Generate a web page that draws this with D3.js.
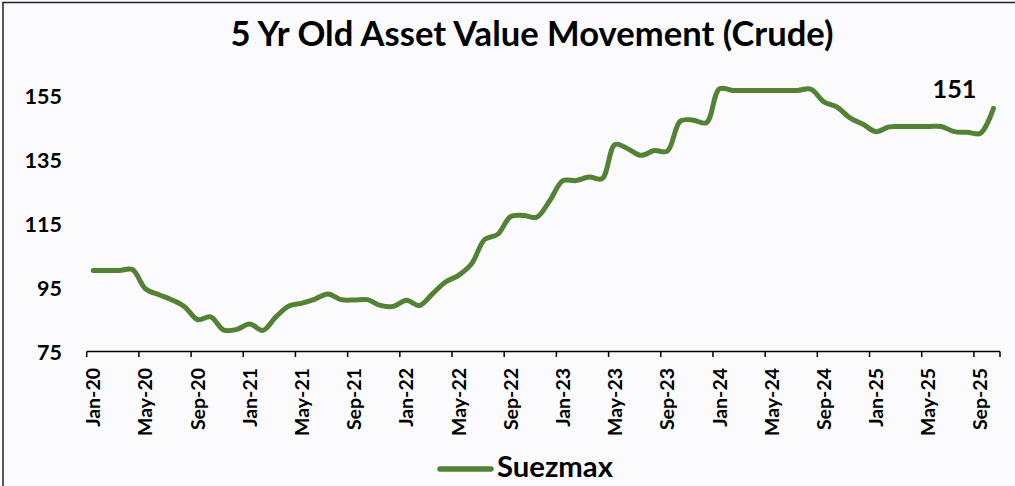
<!DOCTYPE html>
<html><head><meta charset="utf-8">
<script src="https://cdn.jsdelivr.net/npm/d3@7"></script>
<style>
html,body{margin:0;padding:0;background:#fbfbfd;}
svg{display:block;}
text{font-family:Lato,"Open Sans",sans-serif;font-weight:700;fill:#000;}
</style></head>
<body>
<svg id="c" width="1015" height="486"></svg>
<script>
const months = ["Jan-20","Feb-20","Mar-20","Apr-20","May-20","Jun-20","Jul-20","Aug-20","Sep-20","Oct-20","Nov-20","Dec-20",
"Jan-21","Feb-21","Mar-21","Apr-21","May-21","Jun-21","Jul-21","Aug-21","Sep-21","Oct-21","Nov-21","Dec-21",
"Jan-22","Feb-22","Mar-22","Apr-22","May-22","Jun-22","Jul-22","Aug-22","Sep-22","Oct-22","Nov-22","Dec-22",
"Jan-23","Feb-23","Mar-23","Apr-23","May-23","Jun-23","Jul-23","Aug-23","Sep-23","Oct-23","Nov-23","Dec-23",
"Jan-24","Feb-24","Mar-24","Apr-24","May-24","Jun-24","Jul-24","Aug-24","Sep-24","Oct-24","Nov-24","Dec-24",
"Jan-25","Feb-25","Mar-25","Apr-25","May-25","Jun-25","Jul-25","Aug-25","Sep-25","Oct-25"];
const suezmax = [100.3,100.3,100.3,100.6,94.6,92.8,91.2,89.0,85.0,85.8,81.7,81.9,
83.6,81.6,85.8,89.2,90.1,91.4,93.0,91.2,91.1,91.2,89.4,89.1,
91.0,89.4,93.0,96.7,98.8,102.4,110.0,111.6,117.2,117.5,117.0,122.2,
128.4,128.4,129.5,129.0,139.7,138.3,136.3,137.8,137.6,147.0,147.3,146.5,
157.1,156.6,156.6,156.6,156.6,156.6,156.6,157.0,153.0,151.4,148.0,146.0,
143.7,145.2,145.3,145.3,145.3,145.3,143.7,143.5,143.2,151.0];
const yTicks = [75,95,115,135,155];
const xTickLabels = ["Jan-20","May-20","Sep-20","Jan-21","May-21","Sep-21","Jan-22","May-22","Sep-22",
"Jan-23","May-23","Sep-23","Jan-24","May-24","Sep-24","Jan-25","May-25","Sep-25"];
const seriesName = "Suezmax";
const titleText = "5 Yr Old Asset Value Movement (Crude)";
const lastLabel = "151";

const svg = d3.select("#c");
const green = "#548235";

function fit(sel, target){
  const n = sel.node();
  const fs = parseFloat(sel.attr("font-size"));
  const len = n.getComputedTextLength();
  sel.attr("font-size", (fs*target/len).toFixed(2));
}

// frame
svg.append("rect").attr("x",3).attr("y",2.5).attr("width",1030).attr("height",500)
  .attr("fill","#fbfbfd").attr("stroke","#222").attr("stroke-width",1.5);

const x = d3.scaleBand().domain(months).range([86.7,1000]).padding(0);
const y = d3.scaleLinear().domain([75,155]).range([351.5,95.5]);

// title
const t = svg.append("text").attr("x",532).attr("y",46).attr("text-anchor","middle")
  .attr("font-size",28).text(titleText);
fit(t, 603);

// y axis labels
const yAxis = d3.axisLeft(y).tickValues(yTicks).tickSize(0).tickPadding(0);
const gy = svg.append("g").attr("transform","translate(62,0)").call(yAxis);
gy.select(".domain").remove();
gy.selectAll("text").attr("font-size",21.5).attr("font-family","Lato,'Open Sans',sans-serif")
  .attr("font-weight",700).attr("fill","#000").attr("dy","0.36em").attr("x",0);

// x axis
const gx = svg.append("g").attr("transform","translate(0,351.5)");
gx.append("line").attr("x1",x.range()[0]).attr("x2",x.range()[1]).attr("y1",0).attr("y2",0)
  .attr("stroke","#000").attr("stroke-width",1.5);
const tickPos = xTickLabels.map(m=>x(m)).concat([x.range()[1]]);
gx.selectAll("line.tk").data(tickPos).join("line").attr("class","tk")
  .attr("x1",d=>d).attr("x2",d=>d).attr("y1",0).attr("y2",5.5)
  .attr("stroke","#000").attr("stroke-width",1.5);
gx.selectAll("text.xl").data(xTickLabels).join("text").attr("class","xl")
  .attr("transform",d=>`translate(${x(d)+x.bandwidth()/2},16.5) rotate(-90)`)
  .attr("text-anchor","end").attr("dy","0.36em").attr("font-size",19.5).text(d=>d);

// line
const line = d3.line().x((d,i)=>x(months[i])+x.bandwidth()/2).y(d=>y(d)).curve(d3.curveCatmullRom.alpha(0.5));
svg.append("path").datum(suezmax).attr("d",line).attr("fill","none").attr("stroke",green)
  .attr("stroke-width",5).attr("stroke-linecap","round").attr("stroke-linejoin","round");

// last value label
const ll = svg.append("text").attr("x",954.5).attr("y",98.3).attr("text-anchor","middle")
  .attr("font-size",24).text(lastLabel);
fit(ll, 44);

// legend
svg.append("line").attr("x1",440).attr("x2",491).attr("y1",469).attr("y2",469)
  .attr("stroke",green).attr("stroke-width",5.5).attr("stroke-linecap","round");
const lg = svg.append("text").attr("x",497).attr("y",477).attr("font-size",24).text(seriesName);
fit(lg, 116);
</script>
</body></html>
